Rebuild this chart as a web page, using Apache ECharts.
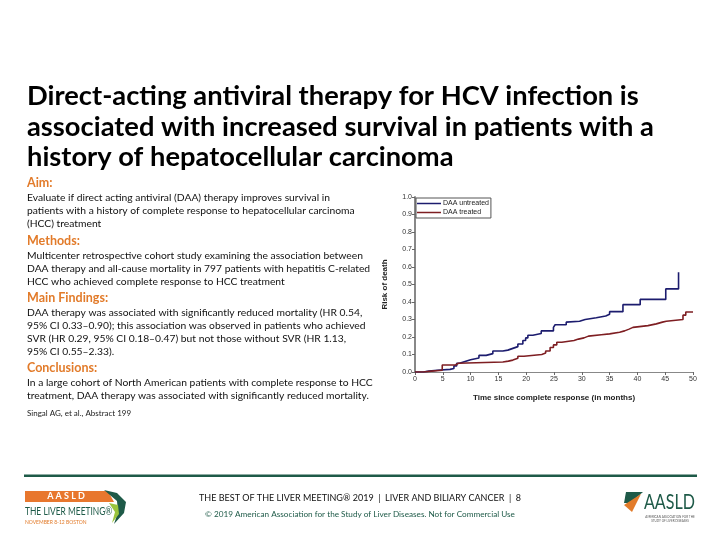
<!DOCTYPE html>
<html>
<head>
<meta charset="utf-8">
<script src="https://cdn.jsdelivr.net/npm/echarts@6/dist/echarts.min.js"></script>
<style>
html,body{margin:0;padding:0;background:#fff;}
#main{width:720px;height:540px;}
</style>
</head>
<body>
<div id="main"></div>
<script>
// ---- Data ----
var untreatedT = [0, 1.5, 2.5, 4, 6.3, 7, 7.5, 8, 9, 10, 11.5, 12.8, 14, 15.8, 16.7, 17.6, 18.5, 19.4, 19.9, 20.3, 21.2, 22.7, 24.9, 25.2, 27.2, 27.5, 29.6, 30.6, 32.6, 34.3, 35, 37.4, 40.5, 45.1, 47.4];
var untreatedR = [0, 0.005, 0.01, 0.015, 0.02, 0.035, 0.05, 0.06, 0.07, 0.08, 0.095, 0.105, 0.12, 0.125, 0.135, 0.145, 0.16, 0.18, 0.195, 0.21, 0.22, 0.235, 0.255, 0.27, 0.285, 0.29, 0.30, 0.31, 0.32, 0.33, 0.345, 0.385, 0.415, 0.475, 0.57];
var treatedT = [0, 1.5, 3, 4.9, 7.3, 7.8, 15.8, 16.8, 17.6, 18.5, 19.6, 22.8, 23.5, 24.3, 24.9, 25.5, 26.4, 28.6, 29.4, 30.4, 31.2, 33.5, 35, 36.8, 37.7, 38.5, 39.2, 41.9, 43.4, 44.5, 45.2, 48.2, 48.7, 50];
var treatedR = [0, 0.005, 0.01, 0.04, 0.05, 0.057, 0.062, 0.068, 0.078, 0.09, 0.1, 0.108, 0.12, 0.14, 0.155, 0.17, 0.18, 0.188, 0.195, 0.205, 0.213, 0.218, 0.227, 0.235, 0.245, 0.255, 0.265, 0.275, 0.285, 0.29, 0.30, 0.325, 0.343, 0.343];
var seriesNames = ['DAA untreated', 'DAA treated'];
var xTicks = [0, 5, 10, 15, 20, 25, 30, 35, 40, 45, 50];
var yTicks = [0, 0.1, 0.2, 0.3, 0.4, 0.5, 0.6, 0.7, 0.8, 0.9, 1.0];

var titleLines = [
  'Direct-acting antiviral therapy for HCV infection is',
  'associated with increased survival in patients with a',
  'history of hepatocellular carcinoma'
];
var sections = [
  {head: 'Aim:', body: [
    'Evaluate if direct acting antiviral (DAA) therapy improves survival in',
    'patients with a history of complete response to hepatocellular carcinoma',
    '(HCC) treatment']},
  {head: 'Methods:', body: [
    'Multicenter retrospective cohort study examining the association between',
    'DAA therapy and all-cause mortality in 797 patients with hepatitis C-related',
    'HCC who achieved complete response to HCC treatment']},
  {head: 'Main Findings:', body: [
    'DAA therapy was associated with significantly reduced mortality (HR 0.54,',
    '95% CI 0.33\u20130.90); this association was observed in patients who achieved',
    'SVR (HR 0.29, 95% CI 0.18\u20130.47) but not those without SVR (HR 1.13,',
    '95% CI 0.55\u20132.33).']},
  {head: 'Conclusions:', body: [
    'In a large cohort of North American patients with complete response to HCC',
    'treatment, DAA therapy was associated with significantly reduced mortality.']}
];
var citation = 'Singal AG, et al., Abstract 199';
var footerMain = 'THE BEST OF THE LIVER MEETING\u00AE 2019  |  LIVER AND BILIARY CANCER  |  8';
var footerCopy = '\u00A9 2019 American Association for the Study of Liver Diseases. Not for Commercial Use';

function pairs(t, r) { var out = []; for (var i = 0; i < t.length; i++) out.push([t[i], r[i]]); return out; }

var FONT = 'Lato';
var ORANGE = '#E27B2A';
var DKGREEN = '#1E5A48';

var graphics = [];
// title
titleLines.forEach(function (s, i) {
  graphics.push({type: 'text', x: 27, y: 84 + i * 30.5, scaleX: 1.05,
    style: {text: s, font: 'bold 26px ' + FONT, fill: '#000'}});
});
// left text blocks
var headY = [176, 234, 291, 361];
var bodyStart = [193, 251, 308, 378];
sections.forEach(function (sec, si) {
  graphics.push({type: 'text', left: 27, top: headY[si],
    style: {text: sec.head, font: 'bold 12.5px ' + FONT, fill: ORANGE}});
  sec.body.forEach(function (line, li) {
    graphics.push({type: 'text', left: 27, top: bodyStart[si] + li * 13,
      style: {text: line, font: '10.3px ' + FONT, fill: '#111'}});
  });
});
graphics.push({type: 'text', left: 27, top: 409, style: {text: citation, font: '8px ' + FONT, fill: '#222'}});
// footer line
graphics.push({type: 'rect', shape: {x: 24, y: 474.5, width: 673, height: 2.5}, style: {fill: DKGREEN}});
graphics.push({type: 'text', x: 360, y: 498, style: {text: footerMain, font: '9px ' + FONT, fill: '#111', textAlign: 'center', textVerticalAlign: 'middle'}});
graphics.push({type: 'text', x: 360, y: 514, style: {text: footerCopy, font: '8.2px ' + FONT, fill: DKGREEN, textAlign: 'center', textVerticalAlign: 'middle'}});
// left logo
graphics.push({type: 'polygon', shape: {points: [[25, 491], [108, 491], [114, 502], [25, 502]]}, style: {fill: '#E8772E'}});
graphics.push({type: 'text', x: 66, y: 496.5, style: {text: 'A A S L D', font: 'bold 9px ' + FONT, fill: '#fff', textAlign: 'center', textVerticalAlign: 'middle'}});
graphics.push({type: 'polygon', shape: {points: [[104, 490], [117, 493], [126, 502], [124, 513], [114, 524], [118, 512], [117, 501]]}, style: {fill: '#1E5A48'}});
graphics.push({type: 'polygon', shape: {points: [[109, 503], [118, 505], [119, 514], [112, 523], [115, 512]]}, style: {fill: '#9AC43C'}});
graphics.push({type: 'text', x: 25, y: 511, scaleX: 0.7, style: {text: 'THE LIVER MEETING\u00AE', font: '12px ' + FONT, fill: DKGREEN, textVerticalAlign: 'middle'}});
graphics.push({type: 'text', x: 25, y: 522, style: {text: 'NOVEMBER 8-12 BOSTON', font: '5px ' + FONT, fill: ORANGE, textVerticalAlign: 'middle'}});
// right logo
graphics.push({type: 'polygon', shape: {points: [[626, 492], [643, 492], [630, 503], [624, 503]]}, style: {fill: DKGREEN}});
graphics.push({type: 'polygon', shape: {points: [[624, 505], [641, 494], [632, 512]]}, style: {fill: ORANGE}});
graphics.push({type: 'text', x: 644, y: 502, scaleX: 0.73, style: {text: 'AASLD', font: '22px ' + FONT, fill: DKGREEN, textVerticalAlign: 'middle'}});
graphics.push({type: 'text', x: 670, y: 517, style: {text: 'AMERICAN ASSOCIATION FOR THE', font: '3px ' + FONT, fill: '#555', textAlign: 'center', textVerticalAlign: 'middle'}});
graphics.push({type: 'text', x: 670, y: 521, style: {text: 'STUDY OF LIVER DISEASES', font: '3px ' + FONT, fill: '#555', textAlign: 'center', textVerticalAlign: 'middle'}});

var chart = echarts.init(document.getElementById('main'), null, {renderer: 'canvas'});
chart.setOption({
  animation: false,
  backgroundColor: '#fff',
  graphic: graphics,
  grid: {left: 415, top: 197, width: 278, height: 175, containLabel: false},
  legend: {
    data: seriesNames, left: 416, top: 198, orient: 'vertical', icon: 'rect',
    itemWidth: 24, itemHeight: 1.5, itemGap: 2, padding: [2, 2, 2, 1],
    borderColor: '#555', borderWidth: 1, backgroundColor: '#fff',
    textStyle: {fontSize: 7, fontFamily: 'Liberation Sans', color: '#222', padding: [0, 0, 0, -3]}
  },
  xAxis: {
    type: 'value', min: 0, max: 50, interval: 5,
    name: 'Time since complete response (in months)', nameLocation: 'middle', nameGap: 22,
    nameTextStyle: {fontSize: 8, fontWeight: 'bold', fontFamily: 'Liberation Sans', color: '#222'},
    axisLine: {show: true, onZero: false, lineStyle: {color: '#888', width: 1}},
    axisTick: {show: true, length: 3, lineStyle: {color: '#666'}},
    axisLabel: {fontSize: 7, fontFamily: 'Liberation Sans', color: '#333', margin: 4,
      formatter: function (v) { return xTicks.indexOf(v) >= 0 ? String(v) : ''; }},
    splitLine: {show: false}
  },
  yAxis: {
    type: 'value', min: 0, max: 1, interval: 0.1,
    name: 'Risk of death', nameLocation: 'middle', nameGap: 26, nameRotate: 90,
    nameTextStyle: {fontSize: 8, fontWeight: 'bold', fontFamily: 'Liberation Sans', color: '#222'},
    axisLine: {show: true, lineStyle: {color: '#888', width: 2}},
    axisTick: {show: true, length: 3, lineStyle: {color: '#666'}},
    axisLabel: {fontSize: 7, fontFamily: 'Liberation Sans', color: '#333', margin: 3,
      formatter: function (v) { var k = Math.round(v * 10) / 10; return yTicks.indexOf(k) >= 0 ? k.toFixed(1) : ''; }},
    splitLine: {show: false}
  },
  series: [
    {name: seriesNames[0], type: 'line', step: 'end', showSymbol: false, data: pairs(untreatedT, untreatedR),
      lineStyle: {color: '#1C1C6E', width: 1.6}, itemStyle: {color: '#1C1C6E'}},
    {name: seriesNames[1], type: 'line', step: 'end', showSymbol: false, data: pairs(treatedT, treatedR),
      lineStyle: {color: '#7E1E22', width: 1.6}, itemStyle: {color: '#7E1E22'}}
  ]
});
</script>
</body>
</html>
